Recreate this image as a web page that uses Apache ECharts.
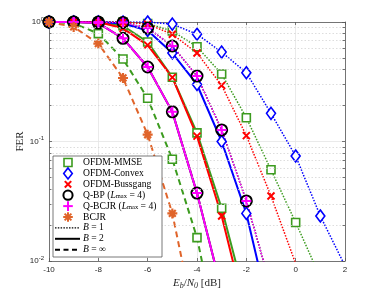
<!DOCTYPE html>
<html><head><meta charset="utf-8">
<script src="https://cdn.jsdelivr.net/npm/echarts@6/dist/echarts.min.js"></script>
<style>html,body{margin:0;padding:0;background:#fff}#c{width:382px;height:295px}</style>
</head><body><div id="c"></div>
<script>
// Eb/N0 sample points [dB]
const ebn0 = [-10,-9,-8,-7,-6,-5,-4,-3,-2,-1,0,1,2];
// B = 1 (dotted)
const mmseB1   = [1,1,1,1,0.97,0.84,0.62,0.367,0.158,0.058,0.021,0.0073,null];
const convexB1 = [1,1,1,1,1,0.96,0.79,0.56,0.376,0.172,0.0756,0.0238,0.0091];
const bussB1   = [1,1,1,1,0.96,0.79,0.55,0.295,0.112,0.035,0.0095,null,null];
const qbpB1    = [1,1,1,0.99,0.89,0.63,0.353,0.125,0.0318,0.006,null,null,null];
const qbcjrB1  = [1,1,1,0.99,0.89,0.63,0.353,0.125,0.0318,0.006,null,null,null];
// B = 2 (solid)
const mmseB2   = [1,1,0.99,0.93,0.68,0.345,0.118,0.0276,0.0045,null,null,null,null];
const convexB2 = [1,1,1,0.97,0.85,0.55,0.30,0.10,0.025,0.0033,null,null,null];
const bussB2   = [1,1,1,0.885,0.64,0.344,0.111,0.0238,0.0035,null,null,null,null];
const qbpB2    = [1,1,0.98,0.73,0.42,0.177,0.037,0.0057,null,null,null,null,null];
const qbcjrB2  = [1,1,0.98,0.73,0.42,0.177,0.037,0.0057,null,null,null,null,null];
// B = infinity (dashed)
const mmseBinf = [1,0.975,0.80,0.49,0.23,0.071,0.0157,0.0016,null,null,null,null,null];
const bcjrBinf = [1,0.91,0.66,0.34,0.114,0.025,0.0025,null,null,null,null,null,null];

const xTicks = [-10,-8,-6,-4,-2,0,2];
const yMinor = [0.02,0.03,0.04,0.05,0.06,0.07,0.08,0.09,0.2,0.3,0.4,0.5,0.6,0.7,0.8,0.9];
const legendLabels = [
  '{n|OFDM-MMSE}',
  '{n|OFDM-Convex}',
  '{n|OFDM-Bussgang}',
  '{n|Q-BP (}{i|L}{s|max}{n| = 4)}',
  '{n|Q-BCJR (}{i|L}{s|max}{n| = 4)}',
  '{n|BCJR}',
  '{i|B}{n| = 1}',
  '{i|B}{n| = 2}',
  '{i|B}{n| = ∞}'
];

const GREEN='#3c9b1f', BLUE='#0000ff', RED='#ff0000', BLACK='#000000', MAG='#ff00ff', ORANGE='#e0642a';
const P_X='path://M0,0L10,10M10,0L0,10';
const P_PLUS='path://M5,0L5,10M0,5L10,5';
const P_AST='path://M5,0L5,10M0,5L10,5M1.6,1.6L8.4,8.4M8.4,1.6L1.6,8.4';

const DOT=[1.5,1.5], DASH=[6,4];
function pts(arr){ const o=[]; arr.forEach((v,i)=>{ if(v!=null) o.push([ebn0[i],v]); }); return o; }
const mk = {
  sq:  {symbol:'rect', symbolSize:8, fill:'#fff', bw:1.6},
  dia: {symbol:'diamond', symbolSize:[9,12], fill:'#fff', bw:1.6},
  x:   {symbol:P_X, symbolSize:7, fill:'none', bw:2},
  cir: {symbol:'circle', symbolSize:11, fill:'none', bw:2},
  plus:{symbol:P_PLUS, symbolSize:10, fill:'none', bw:2},
  ast: {symbol:P_AST, symbolSize:10, fill:'none', bw:2.2}
};
function ser(name, arr, color, m, dash, lw){
  const s = mk[m];
  return {
    name:name, type:'line', data:pts(arr), clip:true, silent:true,
    symbol:s.symbol, symbolSize:s.symbolSize, showSymbol:true, symbolKeepAspect:false,
    lineStyle:{color:color, width:lw, type:dash},
    itemStyle:{color:s.fill, borderColor:color, borderWidth:s.bw},
    emphasis:{disabled:true}, animation:false, z:3
  };
}
const series = [
  ser('OFDM-MMSE, B=1', mmseB1, GREEN, 'sq', DOT, 1.5),
  ser('OFDM-MMSE, B=2', mmseB2, GREEN, 'sq', 'solid', 2),
  ser('OFDM-MMSE, B=inf', mmseBinf, GREEN, 'sq', DASH, 2),
  ser('OFDM-Convex, B=1', convexB1, BLUE, 'dia', DOT, 1.5),
  ser('OFDM-Convex, B=2', convexB2, BLUE, 'dia', 'solid', 2),
  ser('OFDM-Bussgang, B=1', bussB1, RED, 'x', DOT, 1.5),
  ser('OFDM-Bussgang, B=2', bussB2, RED, 'x', 'solid', 2),
  ser('Q-BP, B=1', qbpB1, BLACK, 'cir', DOT, 1.5),
  ser('Q-BP, B=2', qbpB2, BLACK, 'cir', 'solid', 2),
  ser('Q-BCJR, B=1', qbcjrB1, MAG, 'plus', DOT, 1.5),
  ser('Q-BCJR, B=2', qbcjrB2, MAG, 'plus', 'solid', 2),
  ser('BCJR, B=inf', bcjrBinf, ORANGE, 'ast', DASH, 2)
];
// minor grid / minor ticks on the log axis
const minorLines = yMinor.map(v=>({yAxis:v}));
const minorTicks = [];
yMinor.forEach(v=>{ minorTicks.push([{coord:[-10,v]},{coord:[-9.9,v]}]); minorTicks.push([{coord:[2,v]},{coord:[1.9,v]}]); });
series.push({
  name:'grid', type:'line', data:[], silent:true, animation:false, z:1,
  markLine:{silent:true, symbol:'none', animation:false, label:{show:false},
    lineStyle:{color:'#d4d4d4', width:0.8, type:[1.5,2]},
    data:minorLines}
});
series.push({
  name:'mticks', type:'line', data:[], silent:true, animation:false, z:4,
  markLine:{silent:true, symbol:'none', animation:false, label:{show:false},
    lineStyle:{color:'#555', width:0.8, type:'solid'},
    data:minorTicks}
});

const SERIF='"Liberation Serif","DejaVu Serif",serif';
const SANS='"Liberation Sans",Arial,sans-serif';
const axCol='#555';

// ---- legend (drawn as graphic elements) ----
const LEG_TOP=162.5, LEG_STEP=10.9, IC=68, TX=83;
const G=[];
G.push({type:'rect', z:11, silent:true, shape:{x:53,y:156,width:109,height:101},
  style:{fill:'#fff', stroke:'#555', lineWidth:0.8}});
function ln(x1,y1,x2,y2,c,w,dash){ G.push({type:'line', z:12, silent:true,
  shape:{x1,y1,x2,y2}, style:{stroke:c, lineWidth:w, lineDash:dash||null, fill:null}}); }
const rowY = i => LEG_TOP + i*LEG_STEP;
let y;
y=rowY(0); G.push({type:'rect', z:12, silent:true, shape:{x:IC-4,y:y-4,width:8,height:8}, style:{fill:'#fff', stroke:GREEN, lineWidth:1.6}});
y=rowY(1); G.push({type:'polygon', z:12, silent:true, shape:{points:[[IC,y-5.5],[IC+4.3,y],[IC,y+5.5],[IC-4.3,y]]}, style:{fill:'#fff', stroke:BLUE, lineWidth:1.6}});
y=rowY(2); ln(IC-3.2,y-3.2,IC+3.2,y+3.2,RED,2); ln(IC+3.2,y-3.2,IC-3.2,y+3.2,RED,2);
y=rowY(3); G.push({type:'circle', z:12, silent:true, shape:{cx:IC,cy:y,r:4.6}, style:{fill:'none', stroke:BLACK, lineWidth:2}});
y=rowY(4); ln(IC,y-4.8,IC,y+4.8,MAG,2); ln(IC-4.8,y,IC+4.8,y,MAG,2);
y=rowY(5); ln(IC,y-4.8,IC,y+4.8,ORANGE,2); ln(IC-4.8,y,IC+4.8,y,ORANGE,2);
           ln(IC-3.4,y-3.4,IC+3.4,y+3.4,ORANGE,2); ln(IC+3.4,y-3.4,IC-3.4,y+3.4,ORANGE,2);
y=rowY(6); ln(55,y,80,y,BLACK,1.3,[1.5,1.3]);
y=rowY(7); ln(55,y,80,y,BLACK,2);
y=rowY(8); ln(55,y,80,y,BLACK,2,[5,3.5]);
const legRich = {
  n:{fontFamily:SERIF, fontSize:9.6, fill:'#000', lineHeight:10},
  i:{fontFamily:SERIF, fontSize:9.6, fontStyle:'italic', fill:'#000', lineHeight:10},
  s:{fontFamily:SERIF, fontSize:6.5, fill:'#000', lineHeight:6, verticalAlign:'bottom'}
};
legendLabels.forEach((t,i)=>G.push({type:'text', z:12, silent:true, x:TX, y:rowY(i),
  style:{text:t, rich:legRich, verticalAlign:'middle', align:'left', fill:'#000'}}));

const option = {
  animation:false,
  backgroundColor:'#fff',
  grid:{left:49, right:37, top:22, bottom:34, containLabel:false},
  graphic:G,
  xAxis:[{
    type:'value', min:-10, max:2, interval:2, position:'bottom',
    name:'{i|E}{sub|b}{n|/}{i|N}{sub|0}{n| [dB]}', nameLocation:'middle', nameGap:15, nameMoveOverlap:false,
    nameTextStyle:{rich:{
      n:{fontFamily:SERIF, fontSize:11, color:'#262626', lineHeight:14},
      i:{fontFamily:SERIF, fontSize:11, fontStyle:'italic', color:'#262626', lineHeight:14},
      sub:{fontFamily:SERIF, fontSize:8, fontStyle:'italic', color:'#262626', lineHeight:8, verticalAlign:'bottom'}
    }},
    axisLine:{show:true, onZero:false, lineStyle:{color:axCol, width:0.8}},
    axisTick:{show:true, inside:true, length:3, lineStyle:{color:axCol, width:0.8}},
    axisLabel:{fontFamily:SANS, fontSize:8, color:'#262626', margin:5},
    splitLine:{show:true, lineStyle:{color:'#e4e4e4', width:0.8}}
  },{
    type:'value', min:-10, max:2, interval:2, position:'top',
    axisLine:{show:true, onZero:false, lineStyle:{color:axCol, width:0.8}},
    axisTick:{show:true, inside:true, length:3, lineStyle:{color:axCol, width:0.8}},
    axisLabel:{show:false}, splitLine:{show:false}
  }],
  yAxis:[{
    type:'log', logBase:10, min:0.01, max:1, position:'left',
    name:'FER', nameLocation:'middle', nameRotate:90, nameGap:23, nameMoveOverlap:false,
    nameTextStyle:{fontFamily:SERIF, fontSize:11, color:'#262626'},
    axisLine:{show:true, onZero:false, lineStyle:{color:axCol, width:0.8}},
    axisTick:{show:true, inside:true, length:3, lineStyle:{color:axCol, width:0.8}},
    axisLabel:{margin:5, formatter:function(v){ return '{b|10}{sup|'+Math.round(Math.log10(v))+'}'; },
      rich:{b:{fontFamily:SANS, fontSize:8, color:'#262626', lineHeight:12},
            sup:{fontFamily:SANS, fontSize:6, color:'#262626', lineHeight:7, verticalAlign:'top'}}},
    splitLine:{show:true, lineStyle:{color:'#e4e4e4', width:0.8}},
    minorTick:{show:false}, minorSplitLine:{show:false}
  },{
    type:'log', logBase:10, min:0.01, max:1, position:'right',
    axisLine:{show:true, onZero:false, lineStyle:{color:axCol, width:0.8}},
    axisTick:{show:true, inside:true, length:3, lineStyle:{color:axCol, width:0.8}},
    axisLabel:{show:false}, splitLine:{show:false}
  }],
  series:series
};
const chart = echarts.init(document.getElementById('c'), null, {renderer:'canvas'});
chart.setOption(option);
</script>
</body></html>
